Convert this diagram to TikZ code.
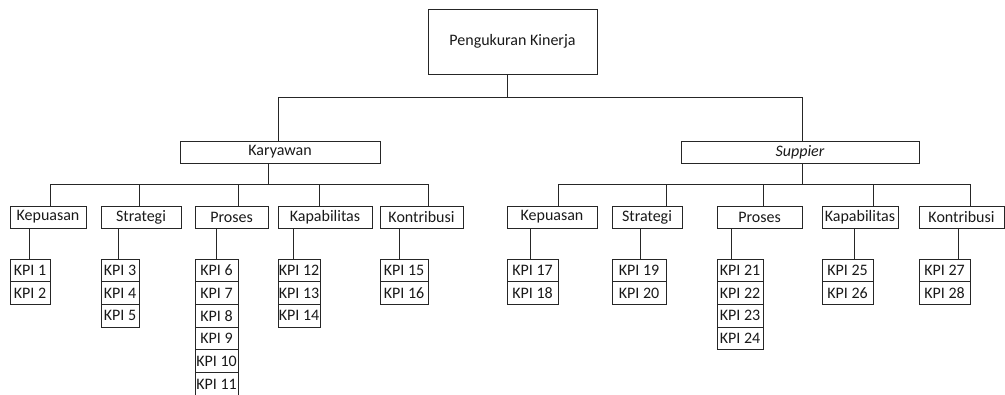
\documentclass[tikz,border=0pt]{standalone}
\usepackage{fontspec}
\setmainfont{Carlito}
\tikzset{
  box/.style={draw=black!85, line width=0.75pt, rectangle, inner sep=0pt, outer sep=0pt,
    font=\fontsize{12}{14}\selectfont, text=black!90},
  conn/.style={draw=black!85, line width=0.75pt}
}
\newcommand\bx[6]{\node[box,minimum width={((#4)-(#3))*0.75pt},minimum height={((#6)-(#5))*0.75pt}] (#1) at ({((#3)+(#4))/2},{((#5)+(#6))/2}) {#2};}
\newcommand\kcol[4]{\foreach \n [count=\i from 0] in {#3,...,#4}{\bx{kpi\n}{KPI \n}{#1}{#2}{259+22.7*\i}{281.7+22.7*\i}}}
\newcommand\kstem[3]{\coordinate (st#1) at (#1,0); \draw[conn] (st#1 |- #2.south) -- (st#1 |- #3.north);}
\newcommand\drop[3]{\coordinate (dr#1) at (#1,#3); \draw[conn] (dr#1) -- (dr#1 |- #2.north);}
\begin{document}
\begin{tikzpicture}[x=0.75pt,y=-0.75pt]
\useasboundingbox (0,0) rectangle (1005,394);
% top
\bx{top}{Pengukuran Kinerja}{428}{597}{9}{74}
\bx{kar}{Karyawan}{180}{380}{141}{163}
\bx{sup}{\itshape Suppier}{681}{919}{141}{163}
% left children
\bx{kepA}{Kepuasan}{10}{86}{206}{228}
\bx{strA}{Strategi}{101}{181}{206}{228}
\bx{proA}{Proses}{195}{268}{206}{228}
\bx{kapA}{Kapabilitas}{278}{372}{206}{228}
\bx{konA}{Kontribusi}{380}{463}{206}{228}
% right children
\bx{kepB}{Kepuasan}{507}{597}{206}{228}
\bx{strB}{Strategi}{612}{682}{206}{228}
\bx{proB}{Proses}{717}{802}{206}{228}
\bx{kapB}{Kapabilitas}{822}{898}{206}{228}
\bx{konB}{Kontribusi}{919}{1004}{206}{228}
% KPI columns
\kcol{10}{50}{1}{2}
\kcol{101}{139}{3}{5}
\kcol{195}{238}{6}{11}
\kcol{278}{320}{12}{14}
\kcol{380}{428}{15}{16}
\kcol{507}{558}{17}{18}
\kcol{612}{666}{19}{20}
\kcol{717}{763}{21}{24}
\kcol{822}{873}{25}{26}
\kcol{919}{970}{27}{28}
% top bus
\coordinate (b0) at (507,97);
\coordinate (ka) at (278,97);
\coordinate (sa) at (802,97);
\draw[conn] (b0 |- top.south) -- (b0);
\draw[conn] (ka |- kar.north) -- (ka) -- (sa) -- (sa |- sup.north);
% left bus
\coordinate (kb) at (268,184);
\coordinate (lb1) at (50,184);
\coordinate (lb2) at (428,184);
\draw[conn] (kb |- kar.south) -- (kb);
\draw[conn] (lb1) -- (lb2);
\drop{50}{kepA}{184}
\drop{139}{strA}{184}
\drop{238}{proA}{184}
\drop{319}{kapA}{184}
\drop{428}{konA}{184}
% right bus
\coordinate (sb) at (802,184);
\coordinate (rb1) at (558,184);
\coordinate (rb2) at (970,184);
\draw[conn] (sb |- sup.south) -- (sb);
\draw[conn] (rb1) -- (rb2);
\drop{558}{kepB}{184}
\drop{666}{strB}{184}
\drop{763}{proB}{184}
\drop{873}{kapB}{184}
\drop{970}{konB}{184}
% KPI stems
\kstem{29}{kepA}{kpi1}
\kstem{118}{strA}{kpi3}
\kstem{216}{proA}{kpi6}
\kstem{293}{kapA}{kpi12}
\kstem{399}{konA}{kpi15}
\kstem{530}{kepB}{kpi17}
\kstem{640}{strB}{kpi19}
\kstem{731}{proB}{kpi21}
\kstem{854}{kapB}{kpi25}
\kstem{958}{konB}{kpi27}
\end{tikzpicture}
\end{document}
